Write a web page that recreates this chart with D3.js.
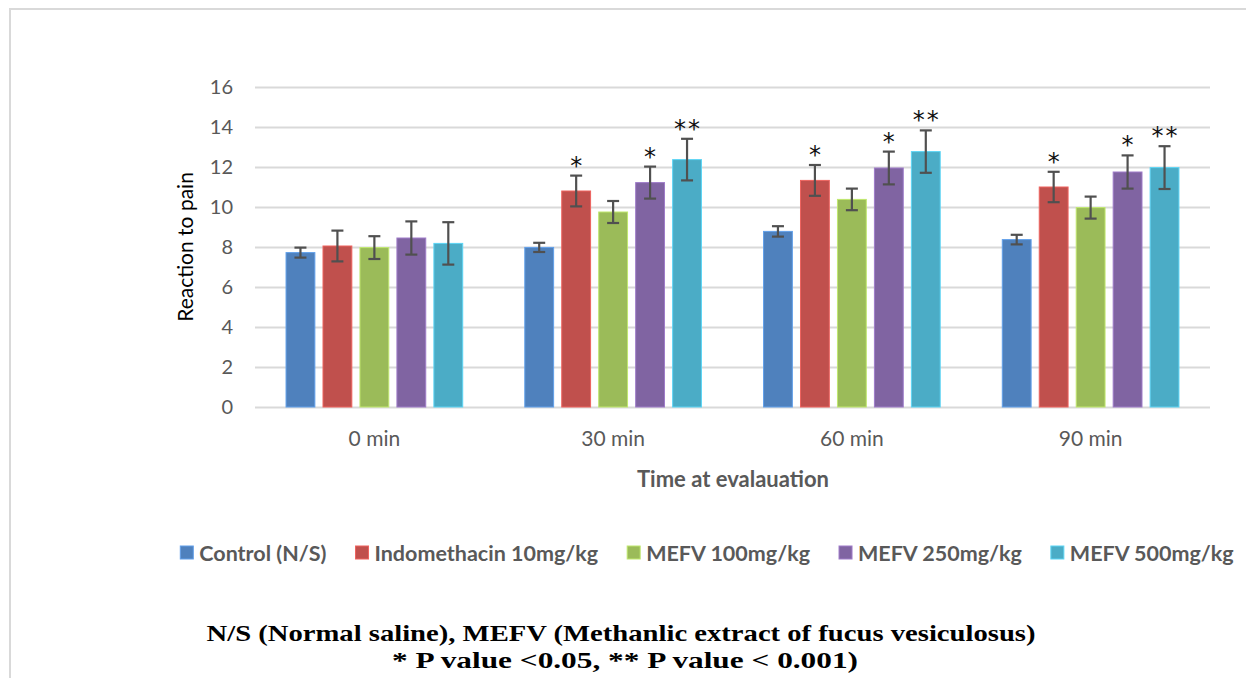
<!DOCTYPE html>
<html>
<head>
<meta charset="utf-8">
<script src="https://cdn.jsdelivr.net/npm/d3@7"></script>
<style>
  html, body { margin: 0; padding: 0; background: #fff; }
  svg { display: block; }
</style>
</head>
<body>
<svg id="chart" width="1246" height="678"></svg>
<script>
// ---------- data ----------
const categories = ["0 min", "30 min", "60 min", "90 min"];
const seriesNames = ["Control (N/S)", "Indomethacin 10mg/kg", "MEFV 100mg/kg", "MEFV 250mg/kg", "MEFV 500mg/kg"];
const seriesColors = ["#4f81bd", "#c0504d", "#9bbb59", "#8064a2", "#4bacc6"];
const controlValues      = [7.72, 7.98, 8.78, 8.37];
const indomethacinValues = [8.05, 10.80, 11.33, 11.00];
const mefv100Values      = [7.97, 9.75, 10.38, 9.97];
const mefv250Values      = [8.45, 11.22, 11.95, 11.75];
const mefv500Values      = [8.18, 12.37, 12.77, 11.97];
const controlErr      = [0.25, 0.23, 0.26, 0.24];
const indomethacinErr = [0.77, 0.77, 0.77, 0.76];
const mefv100Err      = [0.57, 0.55, 0.54, 0.55];
const mefv250Err      = [0.83, 0.80, 0.82, 0.83];
const mefv500Err      = [1.06, 1.04, 1.06, 1.07];
const controlSig      = ["", "", "", ""];
const indomethacinSig = ["", "*", "*", "*"];
const mefv100Sig      = ["", "", "", ""];
const mefv250Sig      = ["", "*", "*", "*"];
const mefv500Sig      = ["", "**", "**", "**"];
const yTicks = [0, 2, 4, 6, 8, 10, 12, 14, 16];
const yLabel = "Reaction to pain";
const xLabel = "Time at evalauation";
const footLine1 = "N/S (Normal saline), MEFV (Methanlic extract of fucus vesiculosus)";
const footLine2 = "* P value <0.05, ** P value < 0.001)";

const valueTable = [controlValues, indomethacinValues, mefv100Values, mefv250Values, mefv500Values];
const errTable = [controlErr, indomethacinErr, mefv100Err, mefv250Err, mefv500Err];
const sigTable = [controlSig, indomethacinSig, mefv100Sig, mefv250Sig, mefv500Sig];

const rows = [];
categories.forEach((c, ci) => {
  seriesNames.forEach((s, si) => {
    rows.push({cat: c, series: s, si, value: valueTable[si][ci], err: errTable[si][ci], sig: sigTable[si][ci]});
  });
});

// ---------- layout ----------
const svg = d3.select("#chart");
const plot = {left: 255, right: 1210, top: 87, bottom: 407};
const tickFont = "Lato, 'Open Sans', sans-serif";
const grey = "#595959";

// frame
svg.append("path")
  .attr("d", "M10,678 L10,9 L1246,9")
  .attr("fill", "none").attr("stroke", "#d9d9d9").attr("stroke-width", 2);

const y = d3.scaleLinear().domain([0, 16]).range([plot.bottom, plot.top]);
const x0 = d3.scaleBand().domain(categories).range([plot.left, plot.right]).paddingInner(0.26).paddingOuter(0.13);
const x1 = d3.scaleBand().domain(seriesNames).range([0, x0.bandwidth()]).paddingInner(0.22).paddingOuter(0);

// grid
const yAxis = d3.axisLeft(y).tickValues(yTicks).tickSize(-(plot.right - plot.left)).tickPadding(22).tickFormat(d3.format("d"));
const gy = svg.append("g").attr("transform", `translate(${plot.left},0)`).call(yAxis);
gy.select(".domain").remove();
gy.selectAll(".tick line").attr("stroke", "#d9d9d9").attr("stroke-width", 2);
gy.selectAll(".tick text").attr("fill", grey).attr("font-family", tickFont).attr("font-size", 20);

// x axis
const xAxis = d3.axisBottom(x0).tickSize(0).tickPadding(24);
const gx = svg.append("g").attr("transform", `translate(0,${plot.bottom})`).call(xAxis);
gx.select(".domain").remove();
gx.selectAll(".tick text").attr("fill", grey).attr("font-family", tickFont).attr("font-size", 21);

// bars
const groups = svg.append("g").selectAll("g").data(categories).join("g")
  .attr("transform", d => `translate(${x0(d)},0)`);

groups.selectAll("rect").data(c => rows.filter(r => r.cat === c)).join("rect")
  .attr("x", d => x1(d.series))
  .attr("y", d => y(d.value))
  .attr("width", x1.bandwidth())
  .attr("height", d => y(0) - y(d.value))
  .attr("fill", d => seriesColors[d.si])
  .attr("stroke", d => d3.color(seriesColors[d.si]).brighter(0.6))
  .attr("stroke-width", 1);

// error bars
const eb = groups.selectAll("g.err").data(c => rows.filter(r => r.cat === c)).join("g").attr("class", "err");
eb.append("line")
  .attr("x1", d => x1(d.series) + x1.bandwidth() / 2)
  .attr("x2", d => x1(d.series) + x1.bandwidth() / 2)
  .attr("y1", d => y(d.value + d.err))
  .attr("y2", d => y(d.value - d.err));
eb.append("line")
  .attr("x1", d => x1(d.series) + x1.bandwidth() / 2 - 6)
  .attr("x2", d => x1(d.series) + x1.bandwidth() / 2 + 6)
  .attr("y1", d => y(d.value + d.err))
  .attr("y2", d => y(d.value + d.err));
eb.append("line")
  .attr("x1", d => x1(d.series) + x1.bandwidth() / 2 - 6)
  .attr("x2", d => x1(d.series) + x1.bandwidth() / 2 + 6)
  .attr("y1", d => y(d.value - d.err))
  .attr("y2", d => y(d.value - d.err));
eb.selectAll("line").attr("stroke", "#505050").attr("stroke-width", 2.2);

// significance stars
groups.selectAll("text.sig").data(c => rows.filter(r => r.cat === c && r.sig)).join("text")
  .attr("class", "sig")
  .attr("x", d => x1(d.series) + x1.bandwidth() / 2 + (d.sig.length > 1 ? 1 : 0))
  .attr("y", d => y(d.value + d.err) - 2)
  .attr("text-anchor", "middle")
  .attr("font-family", "'DejaVu Sans', sans-serif")
  .attr("font-size", 24)
  .attr("letter-spacing", d => d.sig.length > 1 ? 2 : 0)
  .attr("fill", "#111")
  .text(d => d.sig);

// axis titles
svg.append("text")
  .attr("transform", `translate(193,${(plot.top + plot.bottom) / 2}) rotate(-90)`)
  .attr("text-anchor", "middle")
  .attr("font-family", tickFont).attr("font-size", 21).attr("fill", "#000")
  .text(yLabel);

svg.append("text")
  .attr("x", 733)
  .attr("y", 487)
  .attr("text-anchor", "middle")
  .attr("font-family", tickFont).attr("font-size", 22).attr("font-weight", "bold").attr("fill", grey)
  .text(xLabel);

// legend
const legend = svg.append("g");
const items = legend.selectAll("g").data(seriesNames).join("g");
items.append("rect")
  .attr("x", 0).attr("y", -7).attr("width", 13).attr("height", 13)
  .attr("fill", (d, i) => seriesColors[i])
  .attr("stroke", (d, i) => d3.color(seriesColors[i]).brighter(0.6));
items.append("text")
  .attr("x", 19).attr("y", 7.5)
  .attr("font-family", tickFont).attr("font-size", 21.5).attr("font-weight", "bold").attr("fill", grey)
  .text(d => d);
let cursor = 0;
const gap = 29;
items.each(function() {
  const w = this.getBBox().width;
  d3.select(this).attr("transform", `translate(${cursor},0)`);
  cursor += w + gap;
});
const legendWidth = cursor - gap;
legend.attr("transform", `translate(${707 - legendWidth / 2},553)`);

// footnote
const foot = svg.append("g").attr("font-family", "'Liberation Serif', 'Times New Roman', serif")
  .attr("font-weight", "bold").attr("font-size", 24).attr("fill", "#000").attr("text-anchor", "middle");
foot.append("text").attr("x", 621).attr("y", 641).attr("textLength", 829).attr("lengthAdjust", "spacingAndGlyphs").text(footLine1);
foot.append("text").attr("x", 625).attr("y", 668).attr("textLength", 466).attr("lengthAdjust", "spacingAndGlyphs").text(footLine2);
</script>
</body>
</html>
